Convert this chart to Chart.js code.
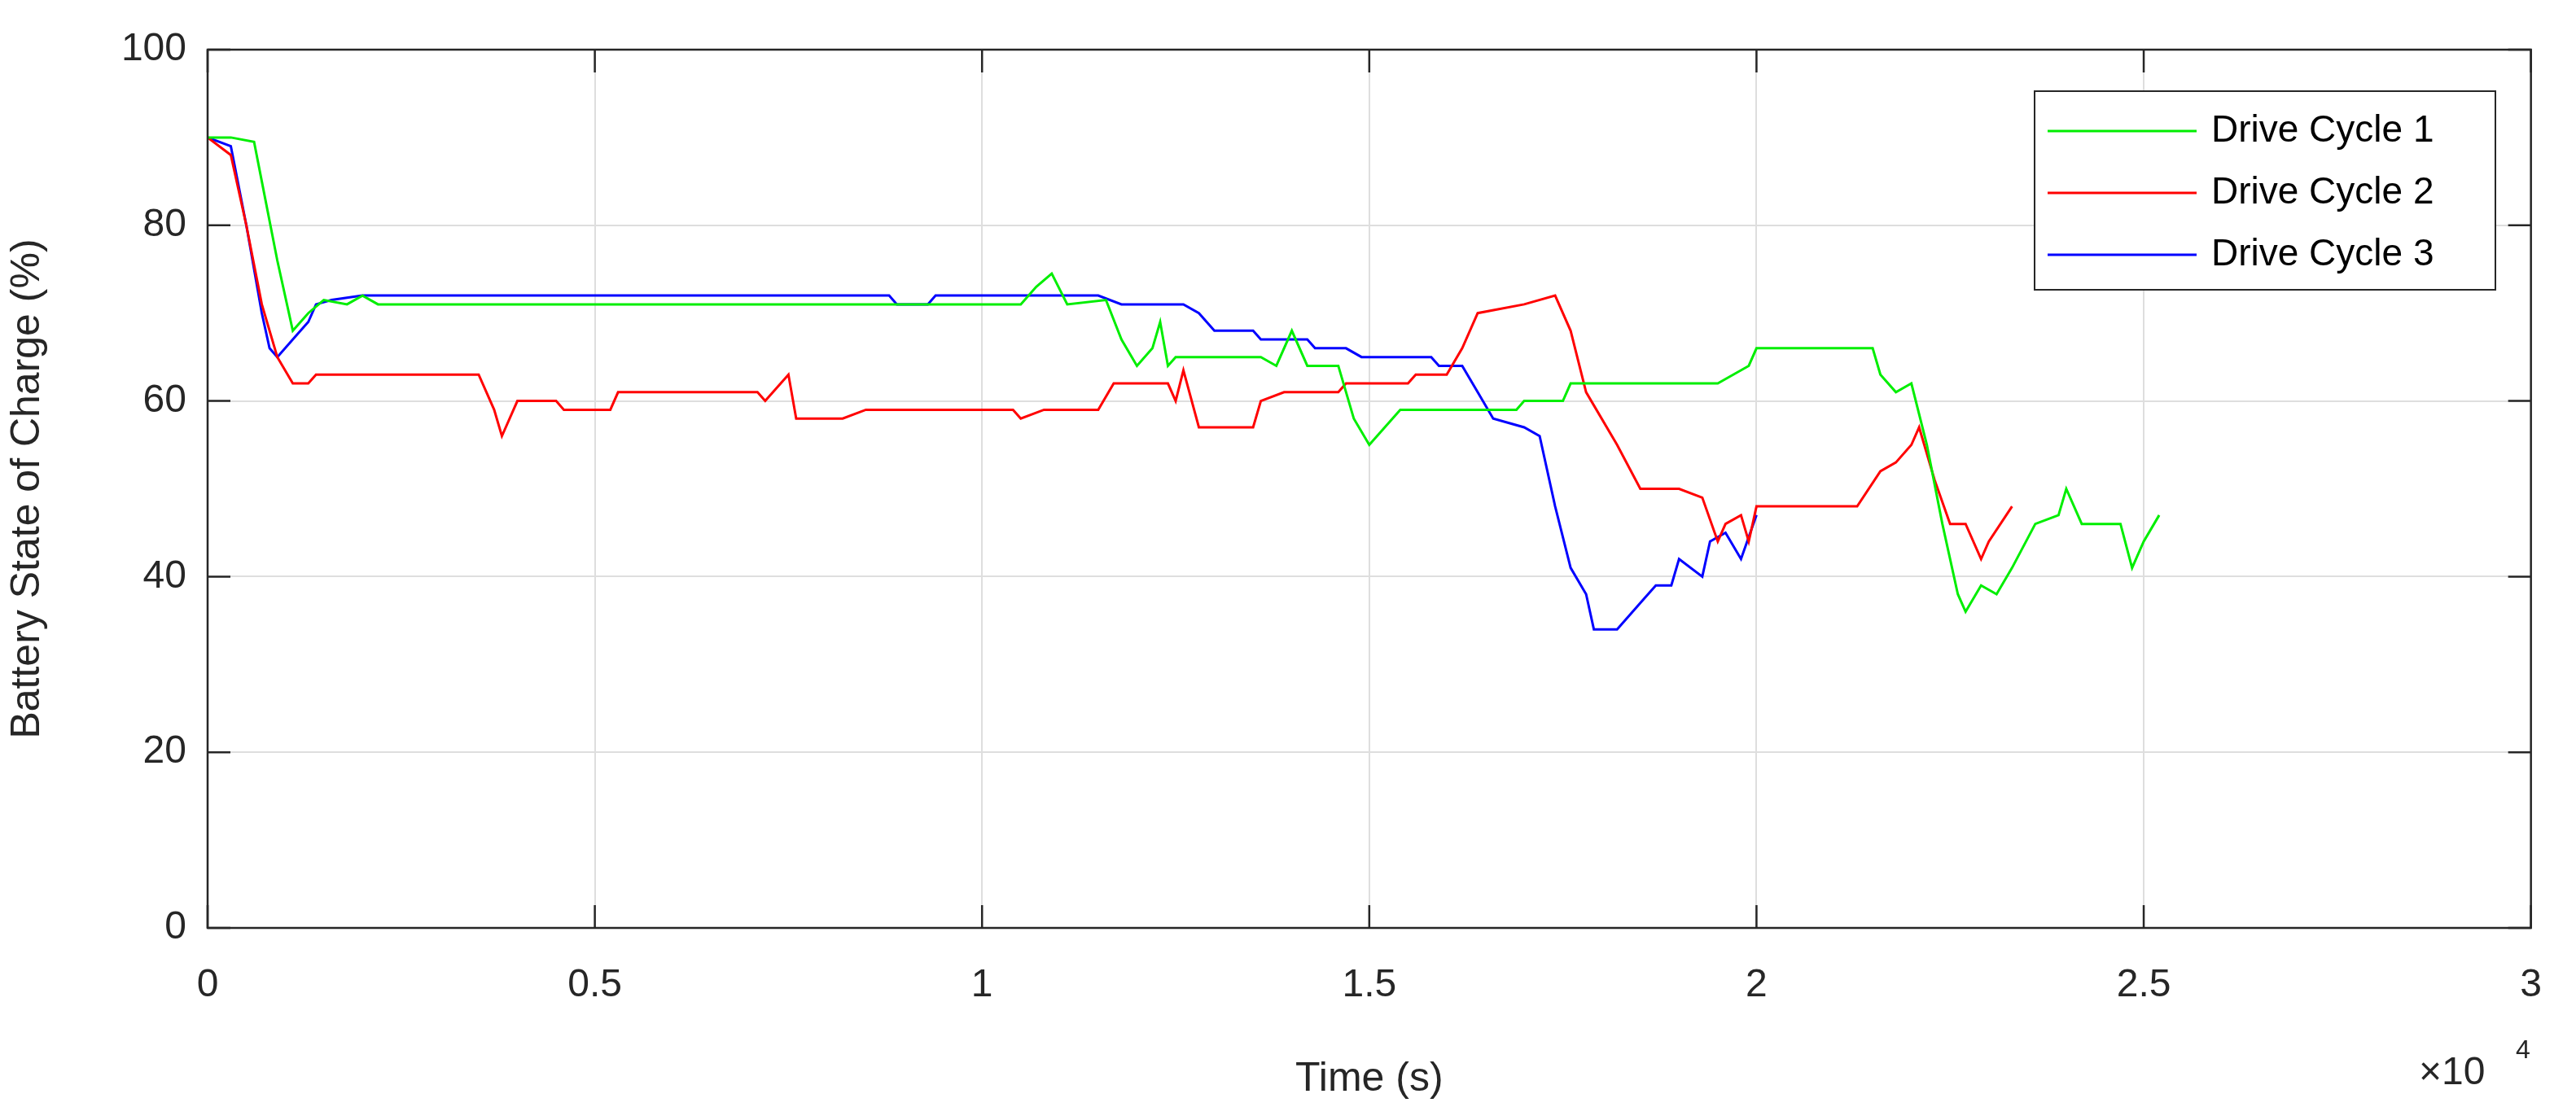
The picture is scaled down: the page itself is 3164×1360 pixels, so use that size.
<!DOCTYPE html>
<html><head><meta charset="utf-8">
<script src="https://cdn.jsdelivr.net/npm/chart.js@4"></script>
<style>html,body{margin:0;background:#fff}#wrap{width:3164px;height:1360px}</style>
</head><body><div id="wrap"><canvas id="c"></canvas></div>
<script>
const seriesNames = ['Drive Cycle 1', 'Drive Cycle 2', 'Drive Cycle 3'];
const seriesColors = ['#00ee00', '#ff0000', '#0000ff'];
const xTicks = [0, 5000, 10000, 15000, 20000, 25000, 30000];
const xTickLabels = ['0', '0.5', '1', '1.5', '2', '2.5', '3'];

const cycle1 = [[0,90],[300,90],[600,89.5],[700,85],[900,76],[1100,68],[1300,70],[1500,71.5],[1800,71],[2000,72],[2200,71],[5000,71],[7000,71],[9000,71],[10500,71],[10700,73],[10900,74.5],[11100,71],[11600,71.5],[11800,67],[12000,64],[12200,66],[12300,69],[12400,64],[12500,65],[13600,65],[13800,64],[14000,68],[14200,64],[14600,64],[14800,58],[15000,55],[15200,57],[15400,59],[16000,59],[16900,59],[17000,60],[17500,60],[17600,62],[18000,62],[19500,62],[19700,63],[19900,64],[20000,66],[21500,66],[21600,63],[21800,61],[22000,62],[22200,55],[22400,46],[22600,38],[22700,36],[22900,39],[23100,38],[23300,41],[23600,46],[23900,47],[24000,50],[24200,46],[24700,46],[24850,41],[25000,44],[25200,47]];
const cycle2 = [[0,90],[300,88],[500,80],[700,71],[900,65],[1100,62],[1300,62],[1400,63],[3500,63],[3700,59],[3800,56],[4000,60],[4500,60],[4600,59],[5200,59],[5300,61],[7100,61],[7200,60],[7400,62],[7500,63],[7600,58],[8200,58],[8500,59],[10400,59],[10500,58],[10800,59],[11500,59],[11700,62],[12400,62],[12500,60],[12600,63.5],[12800,57],[13500,57],[13600,60],[13900,61],[14600,61],[14700,62],[15500,62],[15600,63],[16000,63],[16200,66],[16400,70],[17000,71],[17400,72],[17600,68],[17800,61],[18200,55],[18500,50],[19000,50],[19300,49],[19500,44],[19600,46],[19800,47],[19900,44],[20000,48],[21300,48],[21600,52],[21800,53],[22000,55],[22100,57],[22300,51],[22500,46],[22700,46],[22900,42],[23000,44],[23300,48]];
const cycle3 = [[0,90],[300,89],[500,80],[700,70],[800,66],[900,65],[1100,67],[1300,69],[1400,71],[1600,71.5],[2000,72],[8800,72],[8900,71],[9300,71],[9400,72],[11500,72],[11800,71],[12600,71],[12800,70],[13000,68],[13500,68],[13600,67],[14200,67],[14300,66],[14700,66],[14900,65],[15800,65],[15900,64],[16200,64],[16400,61],[16600,58],[17000,57],[17200,56],[17400,48],[17600,41],[17800,38],[17900,34],[18200,34],[18500,37],[18700,39],[18900,39],[19000,42],[19300,40],[19400,44],[19600,45],[19800,42],[20000,47]];
const allSeries = [cycle1, cycle2, cycle3];

const FONT = '"Liberation Sans", Arial, sans-serif';
Chart.defaults.font.family = FONT;
Chart.defaults.color = '#262626';

const frame = {
  id: 'frame',
  afterDraw(chart) {
    const {ctx, chartArea: a} = chart;
    ctx.save();
    ctx.strokeStyle = '#262626';
    ctx.lineWidth = 2.5;
    ctx.strokeRect(a.left, a.top, a.right - a.left, a.bottom - a.top);
    // inward ticks
    const xs = chart.scales.x, ys = chart.scales.y;
    ctx.beginPath();
    xTicks.forEach(v => { const px = xs.getPixelForValue(v);
      ctx.moveTo(px, a.bottom); ctx.lineTo(px, a.bottom - 28);
      ctx.moveTo(px, a.top); ctx.lineTo(px, a.top + 28); });
    [0,20,40,60,80,100].forEach(v => { const py = ys.getPixelForValue(v);
      ctx.moveTo(a.left, py); ctx.lineTo(a.left + 28, py);
      ctx.moveTo(a.right, py); ctx.lineTo(a.right - 28, py); });
    ctx.stroke();
    // exponent label
    ctx.fillStyle = '#262626';
    ctx.font = '48px ' + FONT;
    ctx.textAlign = 'left'; ctx.textBaseline = 'alphabetic';
    ctx.fillText('\u00d710', 2971, 1332);
    ctx.font = '32px ' + FONT;
    ctx.fillText('4', 3090, 1300);
    // legend
    const lx = 2499, ly = 112, lw = 566, lh = 244;
    ctx.fillStyle = '#fff';
    ctx.fillRect(lx, ly, lw, lh);
    ctx.lineWidth = 2;
    ctx.strokeStyle = '#262626';
    ctx.strokeRect(lx, ly, lw, lh);
    ctx.font = '46px ' + FONT;
    ctx.textBaseline = 'middle';
    seriesNames.forEach((n, i) => {
      const y = ly + 49 + i * 76;
      ctx.strokeStyle = seriesColors[i]; ctx.lineWidth = 3;
      ctx.beginPath(); ctx.moveTo(2515, y); ctx.lineTo(2698, y); ctx.stroke();
      ctx.fillStyle = '#000';
      ctx.fillText(n, 2716, y);
    });
    ctx.restore();
  }
};

new Chart(document.getElementById('c'), {
  type: 'line',
  data: {
    datasets: allSeries.map((s, i) => ({
      label: seriesNames[i],
      data: s.map(p => ({x: p[0], y: p[1]})),
      borderColor: seriesColors[i],
      borderWidth: 3,
      pointRadius: 0,
      tension: 0
    }))
  },
  options: {
    responsive: true,
    maintainAspectRatio: false,
    animation: false,
    layout: {padding: {left: 0, right: 49, top: 61, bottom: 0}},
    plugins: {legend: {display: false}, tooltip: {enabled: false}},
    scales: {
      x: {
        type: 'linear', min: 0, max: 30000,
        afterBuildTicks: s => { s.ticks = xTicks.map(v => ({value: v})); },
        afterFit: s => { s.height = 220; },
        ticks: {font: {size: 48}, padding: 42, maxRotation: 0, callback: (v) => xTickLabels[xTicks.indexOf(v)]},
        grid: {color: '#dedede', lineWidth: 2, drawTicks: false},
        border: {display: false},
        title: {display: true, text: 'Time (s)', font: {size: 50}, padding: {top: 18}}
      },
      y: {
        min: 0, max: 100,
        afterFit: s => { s.width = 255; },
        ticks: {stepSize: 20, font: {size: 48}, padding: 26},
        grid: {color: '#dedede', lineWidth: 2, drawTicks: false},
        border: {display: false},
        title: {display: true, text: 'Battery State of Charge (%)', font: {size: 50}, padding: {bottom: 20}}
      }
    }
  },
  plugins: [frame]
});
</script></body></html>
